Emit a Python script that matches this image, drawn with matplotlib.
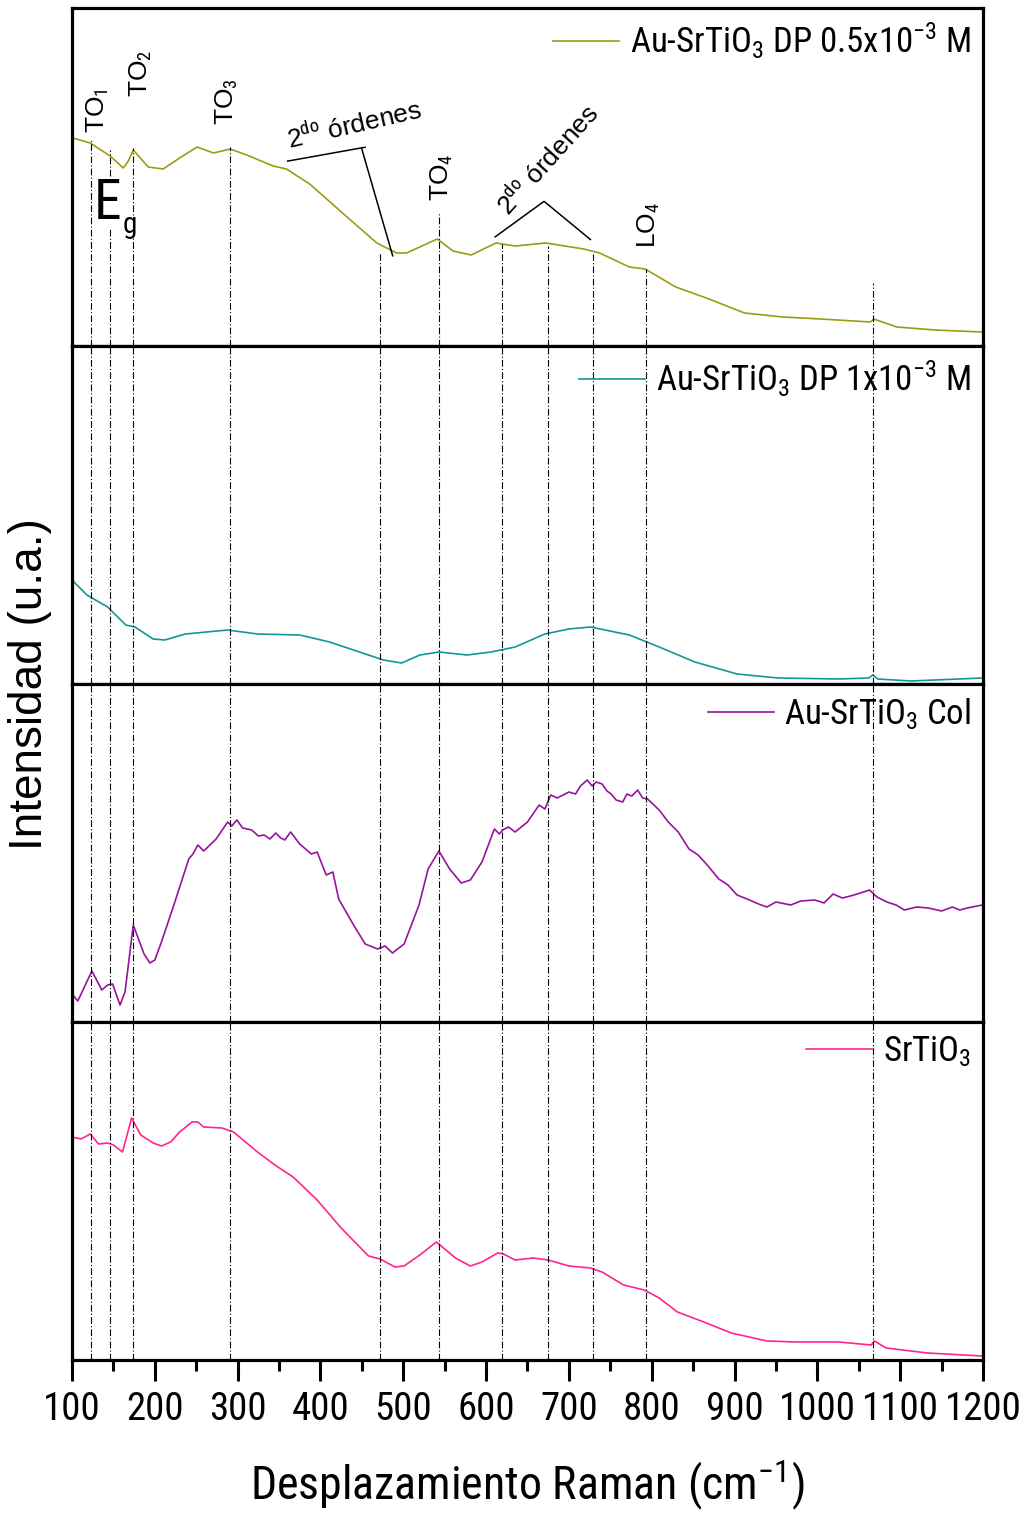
import matplotlib
matplotlib.use('Agg')
import matplotlib.pyplot as plt
from matplotlib import font_manager

# narrow font for ticks / legends (Origin used Arial Narrow), regular one for annotations
available = set(f.name for f in font_manager.fontManager.ttflist)
narrow = 'Liberation Sans'
for cand in ['Liberation Sans Narrow', 'Arial Narrow', 'Roboto Condensed',
             'PT Sans Narrow', 'Archivo Narrow', 'Open Sans Condensed']:
    if cand in available:
        narrow = cand
        break
regular = 'Liberation Sans'

plt.rcParams['font.family'] = [narrow, 'DejaVu Sans']
plt.rcParams['mathtext.fontset'] = 'custom'
plt.rcParams['mathtext.rm'] = narrow
plt.rcParams['mathtext.it'] = narrow
plt.rcParams['mathtext.bf'] = narrow

# --- data (Raman shift in cm-1, intensity in a.u.) ---
x_dp05 = [101, 122, 146, 162, 168, 174, 192, 210, 230, 251, 271, 291, 311, 343, 359, 387,
          428, 468, 492, 504, 541, 560, 582, 612, 635, 672, 718, 737, 773, 792, 829, 866,
          912, 958, 1004, 1064, 1068, 1096, 1142, 1199]
y_dp05 = [208, 203, 190, 178, 185, 196, 179, 177, 188, 199, 193, 197, 191, 180, 177, 162,
          132, 103, 93, 93, 107, 95, 91, 103, 100, 103, 97, 93, 79, 77, 59, 48,
          33, 29, 27, 24, 27, 19, 16, 14]

x_dp1 = [100, 118, 143, 165, 176, 198, 212, 237, 288, 324, 375, 411, 447, 476, 498, 520,
         543, 577, 606, 635, 671, 700, 726, 773, 809, 852, 903, 953, 1026, 1062, 1067, 1073,
         1113, 1199]
y_dp1 = [104, 89, 77, 59, 57, 45, 44, 50, 54, 50, 49, 42, 32, 24, 21, 29,
         32, 29, 32, 37, 50, 55, 57, 49, 37, 22, 10, 6, 5, 6, 9, 5,
         3, 6]

x_col = [100, 107, 124, 136, 143, 149, 158, 164, 174, 187, 194, 200, 208, 223, 241, 246,
         252, 259, 274, 288, 293, 299, 306, 317, 325, 332, 339, 346, 352, 357, 364, 375,
         389, 396, 407, 415, 422, 440, 454, 469, 478, 487, 501, 519, 530, 543, 556, 570,
         581, 595, 610, 616, 620, 627, 635, 650, 664, 671, 678, 686, 700, 708, 714, 722,
         728, 733, 740, 746, 751, 757, 765, 770, 776, 783, 789, 795, 809, 820, 832, 845,
         856, 867, 881, 892, 903, 918, 929, 939, 950, 968, 980, 997, 1008, 1019, 1030, 1040,
         1052, 1063, 1072, 1084, 1095, 1105, 1120, 1134, 1150, 1163, 1172, 1181, 1199]
y_col = [28, 21, 51, 32, 37, 38, 17, 30, 97, 68, 59, 62, 80, 117, 163, 168,
         177, 171, 183, 200, 196, 202, 194, 192, 186, 187, 183, 189, 184, 182, 190, 178,
         168, 170, 147, 150, 123, 97, 78, 73, 76, 69, 78, 117, 153, 171, 153, 139,
         142, 160, 193, 188, 192, 195, 190, 200, 217, 213, 227, 224, 230, 228, 236, 242,
         236, 240, 238, 231, 228, 222, 220, 228, 226, 232, 224, 223, 212, 200, 190, 173,
         167, 157, 143, 137, 127, 122, 118, 115, 120, 117, 121, 122, 119, 128, 124, 126,
         129, 132, 125, 120, 117, 112, 115, 114, 111, 115, 112, 114, 117]

x_sto = [100, 111, 122, 132, 143, 150, 161, 172, 183, 198, 208, 219, 230, 245, 252, 259,
         281, 295, 324, 345, 367, 396, 425, 458, 472, 490, 501, 520, 540, 563, 581, 595,
         614, 621, 635, 657, 675, 700, 726, 740, 766, 791, 809, 831, 863, 896, 939, 975,
         1026, 1065, 1069, 1083, 1133, 1199]
y_sto = [223, 221, 226, 216, 217, 215, 208, 242, 225, 217, 214, 218, 228, 238, 238, 233,
         232, 228, 208, 195, 183, 160, 132, 104, 101, 93, 94, 105, 118, 102, 94, 98,
         107, 106, 100, 102, 100, 94, 92, 88, 75, 70, 62, 48, 38, 27, 19, 18,
         18, 15, 19, 12, 7, 4]

series = [
    (x_dp05, y_dp05, '#9c9c14', r'Au-SrTiO$_3$ DP 0.5x10$^{-3}$ M'),
    (x_dp1, y_dp1, '#159696', r'Au-SrTiO$_3$ DP 1x10$^{-3}$ M'),
    (x_col, y_col, '#96149e', r'Au-SrTiO$_3$ Col'),
    (x_sto, y_sto, '#ff2590', r'SrTiO$_3$'),
]

# mode positions (dash-dot guide lines)
modes = [123, 146, 174, 291, 472, 543, 619, 675, 729, 793, 1067]
# where each guide line starts in the top panel (axes fraction)
mode_top = [0.608, 0.579, 0.585, 0.588, 0.279, 0.395, 0.303, 0.297, 0.273, 0.228, 0.187]

W, H = 1026, 1517
fig = plt.figure(figsize=(W / 100, H / 100), dpi=100)
left, right = 72 / W, 983 / W
panel_h = 338
dash = (0, (6, 2, 1, 2))

axes = []
for i, (xs, ys, color, label) in enumerate(series):
    top_px = 8 + i * panel_h
    ax = fig.add_axes([left, 1 - (top_px + panel_h) / H, right - left, panel_h / H])
    axes.append(ax)
    ax.plot(xs, ys, color=color, lw=1.2, label=label)
    ax.set_xlim(100, 1200)
    ax.set_ylim(0, panel_h)
    ax.set_yticks([])
    for s in ax.spines.values():
        s.set_linewidth(2.3)
    for k, m in enumerate(modes):
        if i == 0:
            if m == 146:
                ax.axvline(m, ymin=0, ymax=0.347, color='k', lw=0.8, ls=dash)
                ax.axvline(m, ymin=0.504, ymax=mode_top[k], color='k', lw=0.8, ls=dash)
            else:
                ax.axvline(m, ymin=0, ymax=mode_top[k], color='k', lw=0.8, ls=dash)
        else:
            ax.axvline(m, color='k', lw=0.8, ls=dash)
    ax.legend(loc='upper right', frameon=False, fontsize=25, handlelength=1.9,
              handletextpad=0.3, borderaxespad=0.15, borderpad=0.2)
    if i < 3:
        ax.set_xticks([])

axb = axes[-1]
axb.set_xticks(range(100, 1201, 100))
axb.set_xticks(range(150, 1200, 100), minor=True)
axb.tick_params(axis='x', which='major', direction='out', length=15, width=2.2,
                labelsize=28, pad=7)
axb.tick_params(axis='x', which='minor', direction='out', length=8, width=2.2)
axb.set_xlabel(r'Desplazamiento Raman (cm$^{-1}$)', fontsize=33, labelpad=21)

fig.text(30 / W, 1 - 684 / H, 'Intensidad (u.a.)', rotation=90, ha='center', va='center',
         fontsize=33, family=[regular, 'DejaVu Sans'])

# annotations in the top panel
ax = axes[0]
tr = ax.get_xaxis_transform()
ann = dict(transform=tr, fontsize=19, family=[regular, 'DejaVu Sans'])
ax.text(131, 0.629, r'TO$_1$', rotation=90, ha='center', va='bottom', **ann)
ax.text(183, 0.736, r'TO$_2$', rotation=90, ha='center', va='bottom', **ann)
ax.text(287, 0.653, r'TO$_3$', rotation=90, ha='center', va='bottom', **ann)
ax.text(547, 0.430, r'TO$_4$', rotation=90, ha='center', va='bottom', **ann)
ax.text(796, 0.290, r'LO$_4$', rotation=90, ha='center', va='bottom', **ann)
ax.text(126, 0.377, 'E', ha='left', va='baseline', transform=tr, fontsize=40)
ax.text(161, 0.335, 'g', ha='left', va='baseline', transform=tr, fontsize=21)

ax.text(362, 0.582, r'2$^{\mathrm{do}}$ órdenes', rotation=13, rotation_mode='anchor',
        ha='left', va='baseline', **ann)
ax.plot([360.4, 453.8], [0.547, 0.588], color='k', lw=1.1, transform=tr)
ax.plot([449.8, 487.2], [0.584, 0.267], color='k', lw=1.1, transform=tr)

ax.text(628, 0.380, r'2$^{\mathrm{do}}$ órdenes', rotation=48, rotation_mode='anchor',
        ha='left', va='baseline', **ann)
ax.plot([611, 670, 726], [0.323, 0.428, 0.315], color='k', lw=1.1, transform=tr)

fig.savefig('out.png', dpi=100)
